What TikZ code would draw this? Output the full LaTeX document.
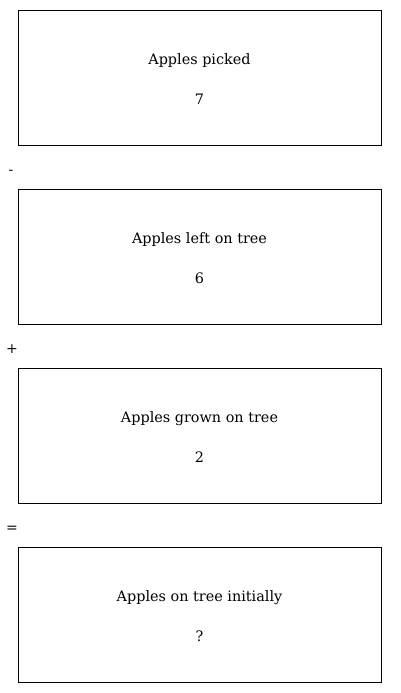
\documentclass[tikz,border=0pt]{standalone}
\usepackage{fontspec}
\setmainfont{DejaVu Serif}
\usetikzlibrary{positioning}
\tikzset{
    box/.style ={
        shape=rectangle,
        draw=black,
        line width=0.8pt,
        minimum width=363pt,
        minimum height=135pt
    },
    label/.style ={
        font=\fontsize{14.4}{16}\selectfont,
        inner sep=0pt
    },
    op/.style ={
        font=\fontsize{14}{16}\selectfont,
        inner sep=0pt
    }
}

\begin{document}
\begin{tikzpicture}[x=1pt,y=-1pt]
    \useasboundingbox (0,0) rectangle (400,693);
    \node[box] (picked) at(199.5,77.5) {};
    \node[box] (left) at(199.5,256.5) {};
    \node[box] (grown) at(199.5,435.5) {};
    \node[box] (initial) at(199.5,614.5) {};
    \node[label] (pickedname) at(199.5,60.5) {Apples picked};
    \node[label] (pickedval) at(199.5,99) {7};
    \node[label] (leftname) at(199.5,239.5) {Apples left on tree};
    \node[label] (leftval) at(199.5,278) {6};
    \node[label] (grownname) at(199.5,418.5) {Apples grown on tree};
    \node[label] (grownval) at(199.5,457) {2};
    \node[label] (initialname) at(199.5,597.5) {Apples on tree initially};
    \node[label] (initialval) at(199.5,636) {?};
    \node[op] (minus) at(11,172) {-};
    \node[op] (plus) at(12,349.5) {+};
    \node[op] (equals) at(12,529.5) {=};
\end{tikzpicture}
\end{document}
